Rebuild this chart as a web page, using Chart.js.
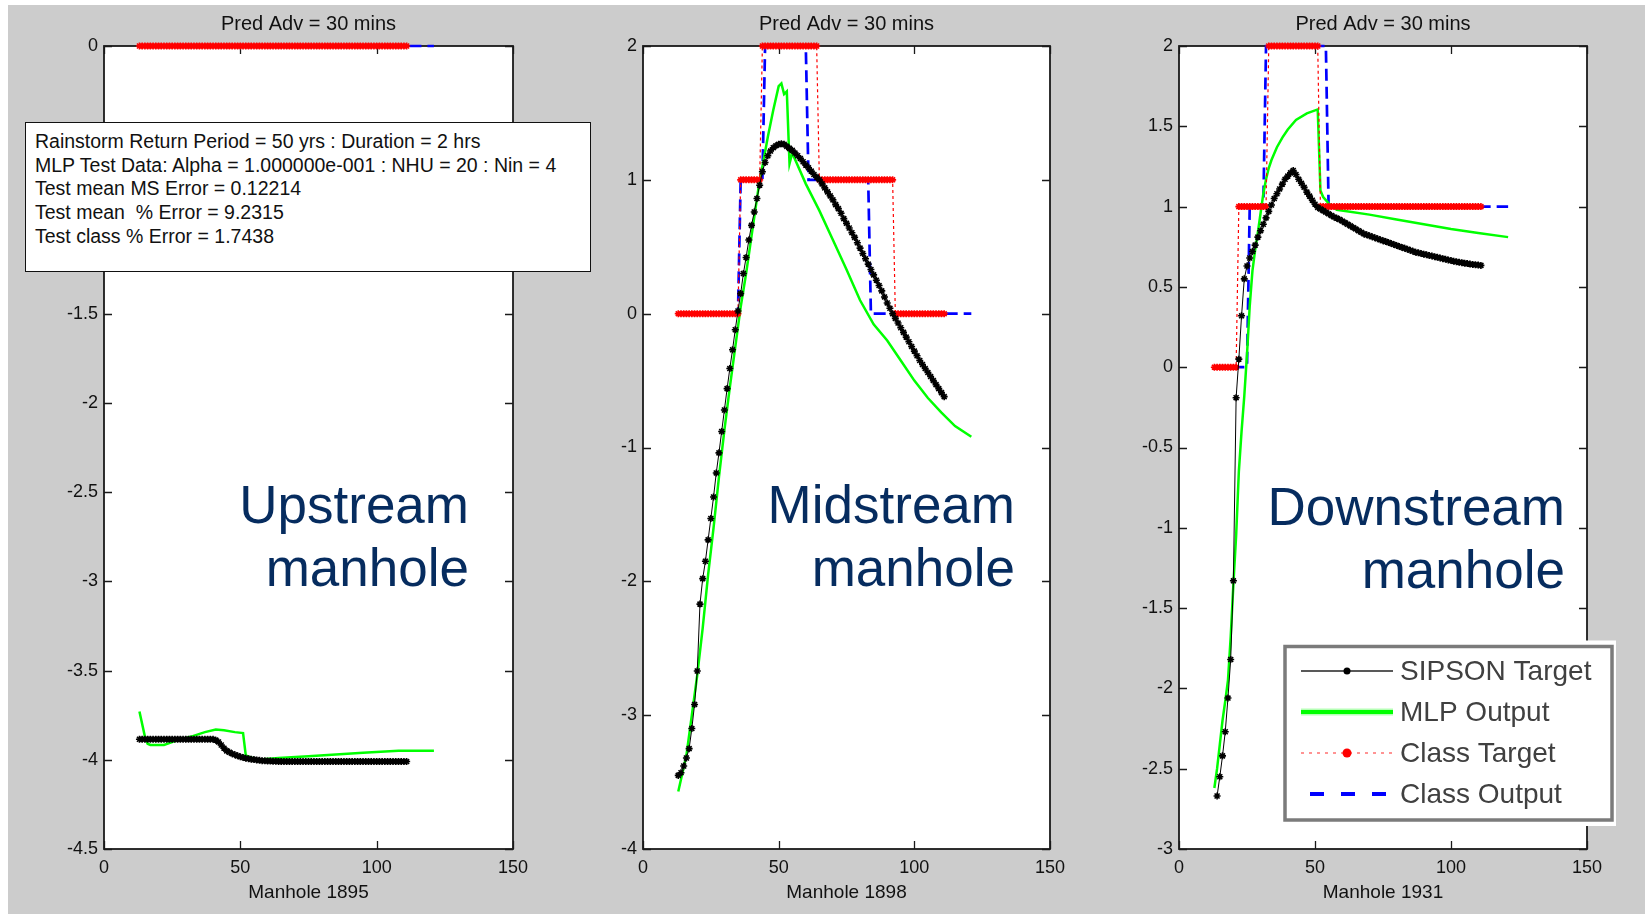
<!DOCTYPE html>
<html>
<head>
<meta charset="utf-8">
<title>Pred Adv = 30 mins</title>
<script src="https://cdn.jsdelivr.net/npm/chart.js@4.4.1/dist/chart.umd.min.js"></script>
<style>
  html, body { margin: 0; padding: 0; background: #fff; }
  body { position: relative; width: 1645px; height: 914px; overflow: hidden;
         font-family: "Liberation Sans", Arial, sans-serif; }
  #figure { position: absolute; left: 8px; top: 5px; right: 0; bottom: 0; background: #cccccc; }
  canvas { position: absolute; top: 0; }
  #info { position: absolute; left: 25px; top: 122px; width: 566px; height: 150px; box-sizing: border-box;
          background: #fff; border: 1.5px solid #111; padding: 7px 0 0 9px;
          font-size: 19.5px; line-height: 23.7px; color: #111; white-space: pre; }
  .tag { position: absolute; color: #062c5f; font-size: 53px; line-height: 63px;
         text-align: right; white-space: nowrap; }
</style>
</head>
<body>
<div id="figure"></div>
<canvas id="up" width="609" height="914" style="left:4px"></canvas>
<canvas id="mid" width="607" height="914" style="left:543px"></canvas>
<canvas id="down" width="608" height="914" style="left:1079px"></canvas>
<div id="info">Rainstorm Return Period = 50 yrs : Duration = 2 hrs
MLP Test Data: Alpha = 1.000000e-001 : NHU = 20 : Nin = 4
Test mean MS Error = 0.12214
Test mean  % Error = 9.2315
Test class % Error = 1.7438</div>
<div class="tag" style="right:1176px; top:473px">Upstream<br>manhole</div>
<div class="tag" style="right:630px; top:473px">Midstream<br>manhole</div>
<div class="tag" style="right:80px; top:475px">Downstream<br>manhole</div>

<script>
// manhole step of the first target point (target / class target are one value per step)
const xStart = 13;
const xTicks = [0, 50, 100, 150];
const yTicksUp = [0, -0.5, -1, -1.5, -2, -2.5, -3, -3.5, -4, -4.5];
const yTicksMid = [2, 1, 0, -1, -2, -3, -4];
const yTicksDown = [2, 1.5, 1, 0.5, 0, -0.5, -1, -1.5, -2, -2.5, -3];
const seriesNames = ['SIPSON Target', 'MLP Output', 'Class Target', 'Class Output'];

// --- Upstream manhole 1895 ---
const upTarget = [
  -3.885, -3.885, -3.885, -3.885, -3.885, -3.885, -3.885, -3.885, -3.885, -3.885,
  -3.885, -3.885, -3.885, -3.885, -3.885, -3.885, -3.885, -3.885, -3.885, -3.885,
  -3.885, -3.885, -3.885, -3.885, -3.885, -3.885, -3.885, -3.885, -3.89, -3.90,
  -3.917, -3.935, -3.95, -3.958, -3.966, -3.972, -3.978, -3.983, -3.987, -3.991,
  -3.994, -3.997, -3.999, -4.001, -4.003, -4.005, -4.006, -4.007, -4.007, -4.008,
  -4.008, -4.009, -4.01, -4.01, -4.01, -4.01, -4.01, -4.01, -4.01, -4.01,
  -4.01, -4.01, -4.01, -4.01, -4.01, -4.01, -4.01, -4.01, -4.01, -4.01,
  -4.01, -4.01, -4.01, -4.01, -4.01, -4.01, -4.01, -4.01, -4.01, -4.01,
  -4.01, -4.01, -4.01, -4.01, -4.01, -4.01, -4.01, -4.01, -4.01, -4.01,
  -4.01, -4.01, -4.01, -4.01, -4.01, -4.01, -4.01, -4.01, -4.01
];
const upMlpX = [13, 15, 16, 17, 22, 27, 32, 37, 41, 44, 48, 51, 52, 56, 64, 75, 85, 95, 108, 121];
const upMlpY = [-3.73, -3.87, -3.91, -3.917, -3.917, -3.89, -3.87, -3.845, -3.83, -3.835,
                -3.845, -3.85, -3.975, -4.0, -3.99, -3.98, -3.97, -3.96, -3.95, -3.95];
const upClassTarget = [
  0, 0, 0, 0, 0, 0, 0, 0, 0, 0,
  0, 0, 0, 0, 0, 0, 0, 0, 0, 0,
  0, 0, 0, 0, 0, 0, 0, 0, 0, 0,
  0, 0, 0, 0, 0, 0, 0, 0, 0, 0,
  0, 0, 0, 0, 0, 0, 0, 0, 0, 0,
  0, 0, 0, 0, 0, 0, 0, 0, 0, 0,
  0, 0, 0, 0, 0, 0, 0, 0, 0, 0,
  0, 0, 0, 0, 0, 0, 0, 0, 0, 0,
  0, 0, 0, 0, 0, 0, 0, 0, 0, 0,
  0, 0, 0, 0, 0, 0, 0, 0, 0
];
const upOutX = [13, 121];
const upOutY = [0, 0];

// --- Midstream manhole 1898 ---
const midTarget = [
  -3.45, -3.43, -3.38, -3.32, -3.25, -3.10, -2.92, -2.67, -2.17, -1.98,
  -1.85, -1.69, -1.53, -1.37, -1.19, -1.04, -0.88, -0.72, -0.56, -0.41,
  -0.27, -0.12, 0.02, 0.15, 0.30, 0.42, 0.55, 0.66, 0.76, 0.86,
  0.96, 1.06, 1.13, 1.18, 1.215, 1.24, 1.255, 1.265, 1.27, 1.265,
  1.25, 1.235, 1.22, 1.20, 1.18, 1.16, 1.135, 1.11, 1.09, 1.065,
  1.04, 1.02, 1.0, 0.97, 0.94, 0.91, 0.88, 0.85, 0.815, 0.785,
  0.75, 0.71, 0.675, 0.64, 0.605, 0.57, 0.53, 0.49, 0.45, 0.41,
  0.37, 0.33, 0.29, 0.25, 0.21, 0.17, 0.125, 0.08, 0.04, 0.0,
  -0.035, -0.07, -0.105, -0.14, -0.175, -0.21, -0.245, -0.28, -0.315, -0.35,
  -0.38, -0.41, -0.44, -0.47, -0.50, -0.53, -0.56, -0.59, -0.62
];
const midMlpX = [13, 16, 18, 20, 22, 24, 26, 28, 30, 32, 34, 36, 38, 40, 42, 43, 44, 46, 48, 50,
                 51, 52, 53, 54, 55, 60, 65, 70, 75, 80, 85, 90, 95, 100, 105, 110, 115, 121];
const midMlpY = [-3.57, -3.3, -3.0, -2.7, -2.35, -1.95, -1.6, -1.22, -0.87, -0.55,
                 -0.25, 0.05, 0.3, 0.58, 0.86, 1.0, 1.1, 1.32, 1.52, 1.70,
                 1.72, 1.64, 1.66, 1.12, 1.2, 0.97, 0.77, 0.55, 0.33, 0.1,
                 -0.08, -0.2, -0.35, -0.5, -0.63, -0.74, -0.84, -0.92];
const midClassTarget = [
  0, 0, 0, 0, 0, 0, 0, 0, 0, 0,
  0, 0, 0, 0, 0, 0, 0, 0, 0, 0,
  0, 0, 0, 1, 1, 1, 1, 1, 1, 1,
  1, 2, 2, 2, 2, 2, 2, 2, 2, 2,
  2, 2, 2, 2, 2, 2, 2, 2, 2, 2,
  2, 2, 1, 1, 1, 1, 1, 1, 1, 1,
  1, 1, 1, 1, 1, 1, 1, 1, 1, 1,
  1, 1, 1, 1, 1, 1, 1, 1, 1, 1,
  0, 0, 0, 0, 0, 0, 0, 0, 0, 0,
  0, 0, 0, 0, 0, 0, 0, 0, 0
];
const midOutX = [13, 35, 36, 44, 45, 60, 61, 83, 84, 121];
const midOutY = [0, 0, 1, 1, 2, 2, 1, 1, 0, 0];

// --- Downstream manhole 1931 ---
const downTarget = [
  null, -2.67, -2.55, -2.42, -2.27, -2.06, -1.82, -1.33, -0.19, 0.05,
  0.32, 0.55, 0.63, 0.68, 0.72, 0.76, 0.81, 0.85, 0.89, 0.93,
  0.97, 1.01, 1.05, 1.08, 1.11, 1.14, 1.17, 1.19, 1.21, 1.225,
  1.20, 1.17, 1.145, 1.12, 1.09, 1.065, 1.04, 1.015, 0.995, 0.985,
  0.975, 0.965, 0.955, 0.945, 0.935, 0.928, 0.92, 0.91, 0.90, 0.89,
  0.88, 0.87, 0.86, 0.85, 0.84, 0.83, 0.824, 0.818, 0.812, 0.806,
  0.80, 0.794, 0.788, 0.782, 0.776, 0.77, 0.764, 0.758, 0.752, 0.746,
  0.74, 0.734, 0.728, 0.722, 0.716, 0.712, 0.708, 0.704, 0.70, 0.696,
  0.692, 0.688, 0.684, 0.68, 0.676, 0.672, 0.668, 0.664, 0.66, 0.657,
  0.654, 0.651, 0.648, 0.645, 0.642, 0.64, 0.638, 0.636, 0.634
];
const downMlpX = [13, 14, 15, 16, 17, 18, 19, 20, 21, 22, 23, 24, 25, 26, 27, 28, 29, 30, 31, 32,
                  33, 34, 36, 38, 40, 43, 47, 51, 52, 53, 54, 55, 58, 70, 80, 90, 100, 110, 121];
const downMlpY = [-2.62, -2.5, -2.35, -2.2, -2.08, -1.95, -1.68, -1.35, -1.05, -0.65,
                  -0.4, -0.18, 0.08, 0.38, 0.6, 0.73, 0.84, 0.96, 1.08, 1.17,
                  1.24, 1.29, 1.37, 1.43, 1.48, 1.54, 1.58, 1.605, 1.1, 1.06,
                  1.04, 1.02, 0.98, 0.95, 0.92, 0.89, 0.86, 0.835, 0.81];
const downClassTarget = [
  0, 0, 0, 0, 0, 0, 0, 0, 0, 1,
  1, 1, 1, 1, 1, 1, 1, 1, 1, 1,
  2, 2, 2, 2, 2, 2, 2, 2, 2, 2,
  2, 2, 2, 2, 2, 2, 2, 2, 2, 1,
  1, 1, 1, 1, 1, 1, 1, 1, 1, 1,
  1, 1, 1, 1, 1, 1, 1, 1, 1, 1,
  1, 1, 1, 1, 1, 1, 1, 1, 1, 1,
  1, 1, 1, 1, 1, 1, 1, 1, 1, 1,
  1, 1, 1, 1, 1, 1, 1, 1, 1, 1,
  1, 1, 1, 1, 1, 1, 1, 1, 1
];
const downOutX = [13, 25, 26, 31, 32, 54, 55, 121];
const downOutY = [0, 0, 1, 1, 2, 2, 1, 1];

Chart.defaults.font.family = '"Liberation Sans", Arial, sans-serif';
Chart.defaults.color = '#111';

// white plot area, MATLAB style box with inward ticks on all four sides
const boxAxes = {
  id: 'boxAxes',
  beforeDraw(chart) {
    const {ctx, chartArea: a} = chart;
    ctx.save();
    ctx.fillStyle = '#fff';
    ctx.fillRect(a.left, a.top, a.width, a.height);
    ctx.restore();
  },
  beforeDatasetsDraw(chart) {
    const {ctx, chartArea: a, scales} = chart;
    const t = 8;
    ctx.save();
    ctx.strokeStyle = '#1a1a1a';
    ctx.lineWidth = 1.3;
    ctx.beginPath();
    scales.x.ticks.forEach(tk => {
      const px = Math.round(scales.x.getPixelForValue(tk.value)) + 0.5;
      ctx.moveTo(px, a.bottom); ctx.lineTo(px, a.bottom - t);
      ctx.moveTo(px, a.top); ctx.lineTo(px, a.top + t);
    });
    scales.y.ticks.forEach(tk => {
      const py = Math.round(scales.y.getPixelForValue(tk.value)) + 0.5;
      ctx.moveTo(a.left, py); ctx.lineTo(a.left + t, py);
      ctx.moveTo(a.right, py); ctx.lineTo(a.right - t, py);
    });
    ctx.stroke();
    ctx.lineWidth = 1.8;
    ctx.strokeRect(a.left, a.top, a.width, a.height);
    ctx.restore();
  }
};

// boxed legend placed over the lower right corner of the last panel
const boxLegend = {
  id: 'boxLegend',
  afterDraw(chart, args, opts) {
    if (!opts.display) return;
    const ctx = chart.ctx;
    const x0 = chart.chartArea.left + opts.left, y0 = opts.top;
    ctx.save();
    ctx.fillStyle = '#fff';
    ctx.fillRect(x0 - 4, y0 - 6, opts.width + 8, opts.height + 12);
    ctx.strokeStyle = '#7b7b7b';
    ctx.lineWidth = 3.5;
    ctx.strokeRect(x0, y0, opts.width, opts.height);
    chart.data.datasets.forEach((ds, i) => {
      const s = opts.samples[i];
      const cy = y0 + opts.firstRow + i * opts.rowGap;
      if (s.halo) {
        ctx.strokeStyle = s.halo;
        ctx.lineWidth = s.width + 3;
        ctx.beginPath(); ctx.moveTo(x0 + s.from, cy); ctx.lineTo(x0 + 108, cy); ctx.stroke();
      }
      ctx.setLineDash(s.dash || []);
      ctx.strokeStyle = s.color || ds.borderColor;
      ctx.lineWidth = s.width;
      ctx.beginPath(); ctx.moveTo(x0 + s.from, cy); ctx.lineTo(x0 + 108, cy); ctx.stroke();
      ctx.setLineDash([]);
      if (s.dot) {
        ctx.fillStyle = ds.pointBorderColor;
        ctx.beginPath(); ctx.arc(x0 + 62, cy, s.dot, 0, 2 * Math.PI); ctx.fill();
      }
      ctx.fillStyle = '#404040';
      ctx.font = '28px "Liberation Sans", Arial, sans-serif';
      ctx.textBaseline = 'middle';
      ctx.fillText(ds.label, x0 + 115, cy + 1);
    });
    ctx.restore();
  }
};

function pts(xs, ys) {
  return ys.map((y, i) => ({x: xs[i], y: y}));
}
function steps(ys) {
  return ys.map((y, i) => ({x: xStart + i, y: y}));
}

function makeChart(id, target, mlpX, mlpY, classTarget, outX, outY, yTicks, xLabel, legend) {
  return new Chart(document.getElementById(id), {
    type: 'line',
    data: {
      datasets: [
        {
          label: seriesNames[0], data: steps(target), order: 0, clip: false,
          borderColor: '#000', borderWidth: 1, tension: 0,
          pointStyle: 'star', pointRadius: 3.5, pointBorderWidth: 1.6,
          pointBorderColor: '#000', pointBackgroundColor: '#000'
        },
        {
          label: seriesNames[1], data: pts(mlpX, mlpY), order: 2, clip: false,
          borderColor: '#00ff00', borderWidth: 2.5, tension: 0, pointRadius: 0
        },
        {
          label: seriesNames[2], data: steps(classTarget), order: 1, clip: false,
          borderColor: '#ff0000', borderWidth: 1.2, borderDash: [3, 3], tension: 0,
          pointStyle: 'star', pointRadius: 3.5, pointBorderWidth: 1.6,
          pointBorderColor: '#ff0000', pointBackgroundColor: '#ff0000'
        },
        {
          label: seriesNames[3], data: pts(outX, outY), order: 3, clip: false,
          borderColor: '#0000ff', borderWidth: 2.7, borderDash: [12, 6], tension: 0, pointRadius: 0
        }
      ]
    },
    options: {
      responsive: false,
      animation: false,
      devicePixelRatio: 1,
      events: [],
      layout: { padding: { left: 0, right: 100, top: 0, bottom: 0 } },
      plugins: {
        legend: { display: false },
        tooltip: { enabled: false },
        title: {
          display: true, text: 'Pred Adv = 30 mins', fullSize: false, color: '#111',
          font: { size: 20, weight: 'normal' }, padding: { top: 12, bottom: 10 }
        },
        boxLegend: legend
      },
      scales: {
        x: {
          type: 'linear', min: 0, max: 150,
          afterBuildTicks: s => { s.ticks = xTicks.map(v => ({value: v})); },
          afterFit: s => { s.height = 65; },
          grid: { display: false, drawTicks: false }, border: { display: false },
          ticks: { padding: 8, color: '#111', font: { size: 18 }, autoSkip: false, maxRotation: 0,
                   callback: v => String(v) },
          title: { display: true, text: xLabel, color: '#111', font: { size: 19 },
                   padding: { top: 0, bottom: 10 } }
        },
        y: {
          type: 'linear', min: yTicks[yTicks.length - 1], max: yTicks[0],
          afterBuildTicks: s => { s.ticks = yTicks.map(v => ({value: v})); },
          afterFit: s => { s.width = 100; },
          grid: { display: false, drawTicks: false }, border: { display: false },
          ticks: { padding: 6, color: '#111', font: { size: 18 }, autoSkip: false,
                   callback: v => String(v) }
        }
      }
    },
    plugins: [boxAxes, boxLegend]
  });
}

makeChart('up', upTarget, upMlpX, upMlpY, upClassTarget, upOutX, upOutY,
          yTicksUp, 'Manhole 1895', { display: false });
makeChart('mid', midTarget, midMlpX, midMlpY, midClassTarget, midOutX, midOutY,
          yTicksMid, 'Manhole 1898', { display: false });
makeChart('down', downTarget, downMlpX, downMlpY, downClassTarget, downOutX, downOutY,
          yTicksDown, 'Manhole 1931', {
            display: true, left: 106, top: 646.5, width: 327, height: 173.5,
            firstRow: 24.5, rowGap: 41,
            samples: [
              { width: 1.5, from: 16, dot: 3.5, color: '#222' },
              { width: 4, from: 16, halo: '#b6ffb6' },
              { width: 1.5, from: 16, dot: 4.5, dash: [3, 5], color: '#ff7070' },
              { width: 4, from: 25, dash: [14, 17] }
            ]
          });
</script>
</body>
</html>
